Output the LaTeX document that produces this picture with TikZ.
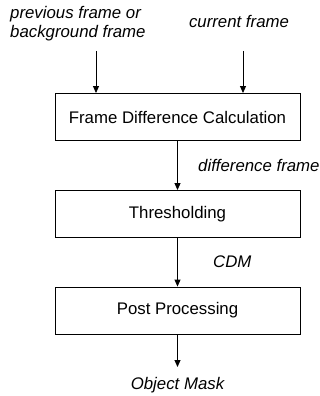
\documentclass[tikz,border=0pt]{standalone}
\usepackage{fontspec}
\setmainfont{Liberation Sans}
\usetikzlibrary{arrows.meta}
\begin{document}
\begin{tikzpicture}[x=1pt,y=-1pt,
  font=\fontsize{16.8}{19}\selectfont,
  stage/.style={draw, line width=0.9pt, minimum width=245pt, minimum height=47pt, inner sep=0pt},
  lbl/.style={font=\fontsize{16.8}{19}\selectfont\itshape, inner sep=0pt},
  flow/.style={line width=0.9pt, -{Triangle[length=7pt,width=6pt]}}]
\useasboundingbox (0,0) rectangle (320,396);

% processing stages
\node[stage] (diff) at (177.5,117) {Frame Difference Calculation};
\node[stage] (thr)  at (177.5,214) {Thresholding};
\node[stage] (post) at (177.5,310.5) {Post Processing};

% inputs
\node[lbl, align=left, anchor=west] (prev) at (10,23.5) {previous frame or\\background frame};
\node[lbl] (cur) at (239,21) {current frame};
\coordinate (prevtop) at (96,51);
\coordinate (curtop) at (243,51);
\draw[flow] (prevtop) -- (prevtop |- diff.north);
\draw[flow] (curtop) -- (curtop |- diff.north);

% intermediate results
\draw[flow] (diff) -- (thr);
\node[lbl, anchor=west] (dframe) at (198,165) {difference frame};
\draw[flow] (thr) -- (post);
\node[lbl, anchor=west] (cdm) at (213,262) {CDM};

% output
\coordinate (outend) at (177.5,367);
\draw[flow] (post) -- (outend);
\node[lbl] (mask) at (177.5,385) {Object Mask};
\end{tikzpicture}
\end{document}
